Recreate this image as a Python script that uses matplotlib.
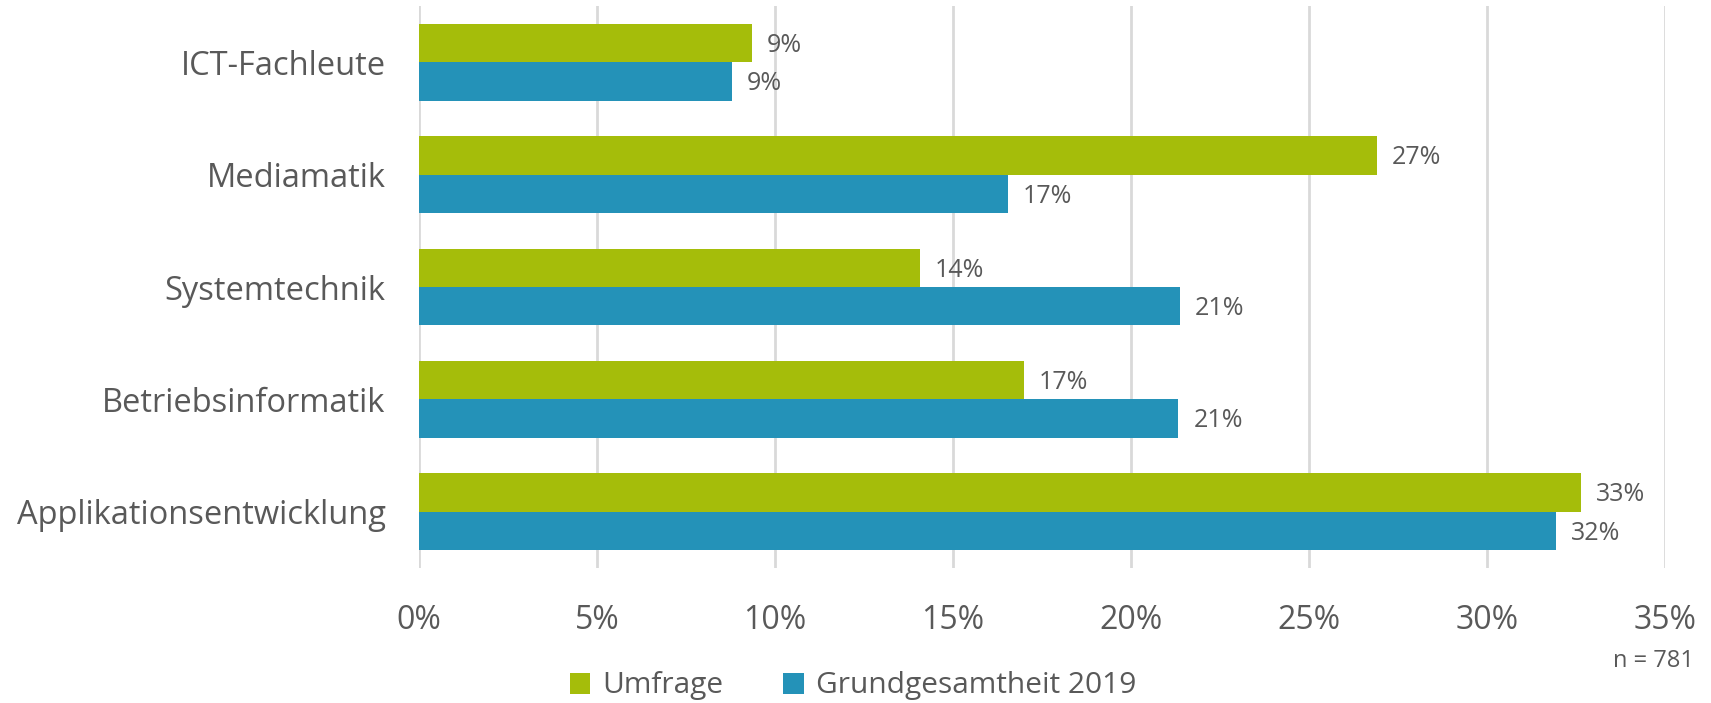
import numpy as np
import matplotlib.pyplot as plt

plt.rcParams['font.family'] = ['Open Sans', 'DejaVu Sans']

# Daten
kategorien = ['ICT-Fachleute', 'Mediamatik', 'Systemtechnik', 'Betriebsinformatik', 'Applikationsentwicklung']
umfrage = [9.35, 26.9, 14.07, 17.0, 32.65]
grundgesamtheit = [8.78, 16.55, 21.37, 21.33, 31.95]
umfrage_lbl = ['9%', '27%', '14%', '17%', '33%']
grund_lbl = ['9%', '17%', '21%', '21%', '32%']
xticks = [0, 5, 10, 15, 20, 25, 30, 35]

gruen = '#A5BD0A'
blau = '#2492B8'
grau = '#595959'

W, H = 1711, 703
fig = plt.figure(figsize=(W / 100, H / 100), dpi=100)
ax = fig.add_axes([419 / W, 1 - 568 / H, (1665 - 419) / W, (568 - 6) / H])

y = np.arange(len(kategorien))
h = 0.342
ax.barh(y - h / 2, umfrage, height=h, color=gruen, label='Umfrage', zorder=3)
ax.barh(y + h / 2, grundgesamtheit, height=h, color=blau, label='Grundgesamtheit 2019', zorder=3)

for yi, v, t in zip(y, umfrage, umfrage_lbl):
    ax.text(v + 0.42, yi - h / 2 + 0.02, t, va='center', ha='left', fontsize=18, color=grau)
for yi, v, t in zip(y, grundgesamtheit, grund_lbl):
    ax.text(v + 0.42, yi + h / 2 + 0.02, t, va='center', ha='left', fontsize=18, color=grau)

ax.set_ylim(len(kategorien) - 0.5, -0.5)
ax.set_xlim(0, 35)
ax.set_yticks(y)
ax.set_yticklabels(kategorien, fontsize=23.5, color=grau)
ax.set_xticks(xticks)
ax.set_xticklabels([f'{x}%' for x in xticks], fontsize=23, color=grau)
ax.tick_params(axis='both', length=0)
ax.tick_params(axis='x', pad=26)
ax.tick_params(axis='y', pad=24)
ax.grid(axis='x', color='#D9D9D9', linewidth=2, zorder=0)
for s in ax.spines.values():
    s.set_visible(False)

fig.legend(loc='center', bbox_to_anchor=(853 / W, 1 - 686 / H), ncol=2, frameon=False,
           fontsize=21.5, labelcolor=grau, handlelength=0.7, handleheight=0.7,
           handletextpad=0.4, columnspacing=2.0)
fig.text(1694 / W, 1 - 661 / H, 'n = 781', ha='right', va='center', fontsize=17, color=grau)

fig.savefig('out.png', dpi=100)
